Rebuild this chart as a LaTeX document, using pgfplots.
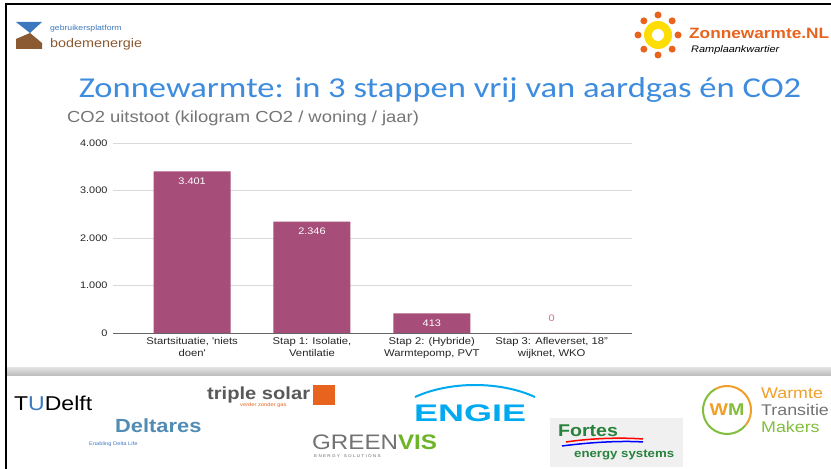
\documentclass[border=0pt]{standalone}
\usepackage{pgfplots}
\pgfplotsset{compat=1.18}
\usetikzlibrary{calc}
\usepackage{graphicx}
\usepackage{fontspec}
\setmainfont{Liberation Sans}[FakeStretch=1.15]
\newfontfamily\calibri{Carlito}[FakeStretch=1.2]
\newfontfamily\widefont{Liberation Sans}[FakeStretch=1.5]
\definecolor{barc}{RGB}{166,77,121}
\definecolor{zeroc}{RGB}{200,110,155}
\definecolor{titleblue}{RGB}{62,140,222}
\definecolor{subgray}{RGB}{117,117,117}
\definecolor{gridc}{RGB}{217,217,217}
\definecolor{zorange}{RGB}{232,100,30}
\definecolor{bodebrown}{RGB}{140,90,50}
\definecolor{bodeblue}{RGB}{60,120,190}
\definecolor{engieblue}{RGB}{0,170,240}
\definecolor{deltblue}{RGB}{80,140,180}
\definecolor{fortgreen}{RGB}{40,130,60}
\definecolor{gvgreen}{RGB}{110,180,40}
\definecolor{wmorange}{RGB}{240,160,40}
\definecolor{wmgreen}{RGB}{130,190,60}
\pgfplotstableread{
x y
0 3401
1 2346
2 413
}\bars
\pgfplotstableread{
x y
3 0
}\zerobar
\begin{document}
\begin{tikzpicture}[x=1pt,y=1pt]
\useasboundingbox (0,0) rectangle (831,469);
\fill[white] (0,0) rectangle (831,469);
% slide frame
\draw[black, line width=2.5pt] (6,0) -- (6,465) -- (831,465);
% gray band
\shade[top color=gray!25, bottom color=gray!55] (7,93) rectangle (831,101);
% top-left logo
\fill[bodeblue] (16,447) -- (42,447) -- (30,436) -- cycle;
\fill[bodebrown] (16,430) -- (30,436) -- (42,426) -- (42,420) -- (16,420) -- cycle;
\node[anchor=west, inner sep=0, text=bodeblue, font=\fontsize{7.5}{9}\selectfont] at (50,440) {gebruikersplatform};
\node[anchor=west, inner sep=0, text=bodebrown, font=\fontsize{12.5}{14}\selectfont] at (50,425) {bodemenergie};
% top-right logo
\fill[yellow!80!orange] (658,434) circle (14);
\fill[white] (658,434) circle (6);
\foreach \a in {0,45,...,315} {\fill[zorange] ($(658,434)+(\a:20)$) circle (3.5);}
\node[anchor=west, inner sep=0, text=zorange, font=\bfseries\fontsize{15}{17}\selectfont] at (689,436) {Zonnewarmte.NL};
\node[anchor=west, inner sep=0, font=\itshape\fontsize{9.5}{11}\selectfont] at (691,419) {Ramplaankwartier};
% main title
\node[text=titleblue, inner sep=0, font=\calibri\fontsize{28.8}{32}\selectfont] at (440,379) {Zonnewarmte: in 3 stappen vrij van aardgas én CO2};
% chart title
\node[anchor=west, inner sep=0, text=subgray, font=\fontsize{16}{18}\selectfont] at (67,351) {CO2 uitstoot (kilogram CO2 / woning / jaar)};
\begin{axis}[
  at={(113pt,136pt)}, anchor=south west,
  scale only axis, width=519pt, height=190pt,
  xmin=-0.66, xmax=3.67, ymin=0, ymax=4000,
  ybar, bar width=77pt,
  axis lines*=left,
  y axis line style={draw=none},
  x axis line style={draw=black!60, line width=0.8pt},
  major tick length=0pt,
  ytick={0,1000,2000,3000,4000},
  ymajorgrids, grid style={gridc, line width=0.6pt},
  /pgf/number format/.cd, 1000 sep={.}, assume math mode=true,
  /pgfplots/.cd,
  yticklabel style={font=\fontsize{9.5}{11}\selectfont, text=black!85, xshift=-2pt},
  xtick={0,1,2,3},
  xticklabels={{Startsituatie, \textquotesingle niets\\doen\textquotesingle},{Stap 1: Isolatie,\\Ventilatie},{Stap 2: (Hybride)\\Warmtepomp, PVT},{Stap 3: Afleverset, 18"\\wijknet, WKO}},
  xticklabel style={align=center, font=\fontsize{9.8}{11.8}\selectfont, text=black!85, yshift=-1pt},
  clip=false,
]
\addplot[fill=barc, draw=none, bar shift=0pt,
  nodes near coords, nodes near coords style={anchor=north, yshift=-3pt, text=white, font=\fontsize{9.5}{11}\selectfont}]
  table[x=x,y=y]{\bars};
\addplot[fill=barc, draw=none, bar shift=0pt,
  nodes near coords, nodes near coords style={anchor=south, yshift=8pt, text=zeroc, font=\fontsize{9.5}{11}\selectfont}]
  table[x=x,y=y]{\zerobar};
\end{axis}
% bottom logos
\node[anchor=west, inner sep=0, font=\fontsize{20}{22}\selectfont] at (14,66) {T\textcolor{bodeblue}{U}Delft};
\node[anchor=west, inner sep=0, text=black!65, font=\bfseries\fontsize{17.5}{19}\selectfont] at (207,74) {triple solar};
\fill[zorange] (313,64) rectangle (335,84);
\node[anchor=west, inner sep=0, text=zorange, font=\fontsize{5}{6}\selectfont] at (240,64) {verder zonder gas};
\node[anchor=west, inner sep=0, text=deltblue, font=\bfseries\fontsize{19}{21}\selectfont] at (115,43) {Deltares};
\node[anchor=west, inner sep=0, text=bodeblue, font=\fontsize{5}{6}\selectfont] at (89,25) {Enabling Delta Life};
\draw[engieblue, line width=2pt] (415,72) .. controls (450,88) and (500,88) .. (535,72);
\node[anchor=west, inner sep=0, text=engieblue, font=\widefont\bfseries\fontsize{24}{26}\selectfont] at (414,56) {ENGIE};
\node[anchor=west, inner sep=0, font=\fontsize{21}{23}\selectfont] at (312,27) {\textcolor{black!55}{GREEN}\textcolor{gvgreen}{\bfseries VIS}};
\node[anchor=west, inner sep=0, text=black!60, font=\fontsize{4}{5}\selectfont] at (314,13) {E N E R G Y \ \ S O L U T I O N S};
\fill[gray!12] (550,2) rectangle (683,51);
\node[anchor=west, inner sep=0, text=fortgreen, font=\bfseries\fontsize{17}{19}\selectfont] at (558,38) {Fortes};
\draw[red, line width=1.5pt] (566,27) .. controls (600,32) and (630,31) .. (643,30);
\draw[blue, line width=1.5pt] (562,23) .. controls (600,28) and (630,28) .. (643,27);
\node[anchor=west, inner sep=0, text=fortgreen, font=\bfseries\fontsize{11.5}{13}\selectfont] at (574,14) {energy systems};
\draw[wmorange, line width=2pt] (727,59) ++(120:24) arc (120:-40:24);
\draw[wmgreen, line width=2pt] (727,59) ++(-40:24) arc (-40:-240:24);
\node[inner sep=0, font=\bfseries\fontsize{17}{19}\selectfont] at (727,59) {\textcolor{wmorange}{W}\textcolor{wmgreen}{M}};
\node[anchor=west, inner sep=0, text=wmorange, font=\fontsize{15.5}{17}\selectfont] at (761,76) {Warmte};
\node[anchor=west, inner sep=0, text=black!55, font=\fontsize{15.5}{17}\selectfont] at (761,59) {Transitie};
\node[anchor=west, inner sep=0, text=wmgreen, font=\fontsize{15.5}{17}\selectfont] at (761,42) {Makers};
\end{tikzpicture}
\end{document}
